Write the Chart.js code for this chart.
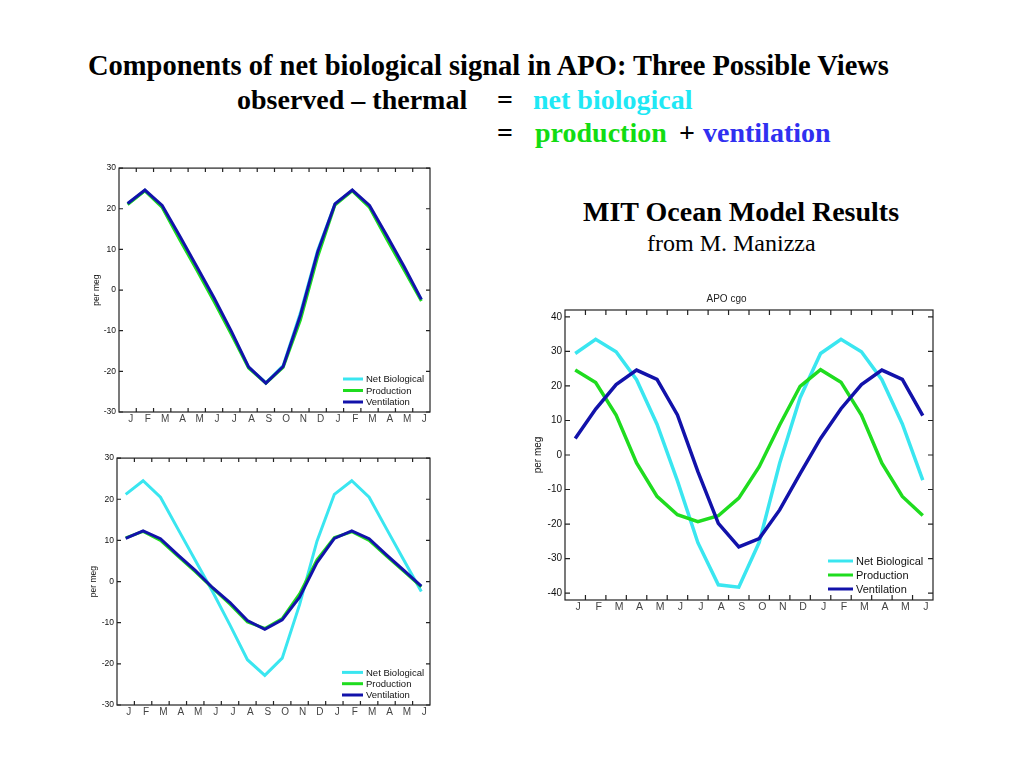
<!DOCTYPE html>
<html>
<head>
<meta charset="utf-8">
<script src="https://cdn.jsdelivr.net/npm/chart.js@4"></script>
<style>
  body { margin: 0; background: #fff; }
  #page { position: relative; width: 1024px; height: 768px; overflow: hidden; }
  .t { position: absolute; white-space: nowrap; font-family: "Liberation Serif", "Times New Roman", serif; color: #000; }
  .b { font-weight: bold; font-size: 28px; line-height: 28px; }
  canvas { position: absolute; }
</style>
</head>
<body>
<div id="page">
  <div class="t b" style="left:88px; top:52px; font-size:28.5px;">Components of net biological signal in APO: Three Possible Views</div>
  <div class="t b" style="left:237px; top:86px;">observed &ndash; thermal</div>
  <div class="t b" style="left:497px; top:86px;">=</div>
  <div class="t b" style="left:533px; top:86px; color:#1fe8f5;">net biological</div>
  <div class="t b" style="left:497px; top:119px;">=</div>
  <div class="t b" style="left:535px; top:119px; color:#12dc12;">production</div>
  <div class="t b" style="left:679px; top:119px;">+</div>
  <div class="t b" style="left:703px; top:119px; color:#3030f0;">ventilation</div>
  <div class="t b" style="left:583px; top:198px;">MIT Ocean Model Results</div>
  <div class="t" style="left:647px; top:231px; font-size:24px; line-height:24px;">from M. Manizza</div>

  <canvas id="chartA" width="360" height="270" style="left:80px; top:160px;"></canvas>
  <canvas id="chartB" width="360" height="275" style="left:80px; top:450px;"></canvas>
  <canvas id="chartC" width="420" height="334" style="left:520px; top:285px;"></canvas>
</div>
<script>
// month labels, Jan of year 1 to Jun of year 2
const months = ["J", "F", "M", "A", "M", "J", "J", "A", "S", "O", "N", "D", "J", "F", "M", "A", "M", "J"];
const seriesNames = ["Net Biological", "Production", "Ventilation"];

// top left panel
const netBio = [21.2, 24.5, 20.5, 12.8, 5.2, -2.5, -10.6, -19.0, -22.8, -18.6, -5.6, 9.8, 21.2, 24.5, 20.5, 12.8, 5.2, -2.4];
const prodTop = [21.0, 24.4, 20.3, 12.5, 4.9, -2.8, -10.9, -19.2, -22.9, -19.0, -7.4, 8.2, 20.9, 24.4, 20.3, 12.5, 4.9, -2.7];
const ventTop = [21.3, 24.6, 20.8, 13.4, 5.8, -1.9, -10.1, -18.9, -22.9, -18.8, -6.2, 9.4, 21.2, 24.6, 20.8, 13.4, 5.8, -2.3];

// bottom left panel (net biological same as above)
const prodBottom = [10.6, 12.2, 10.0, 6.2, 2.4, -1.6, -5.5, -9.8, -11.4, -9.0, -3.0, 5.3, 10.7, 12.1, 10.0, 6.2, 2.5, -1.3];
const ventBottom = [10.5, 12.3, 10.4, 6.5, 2.7, -1.5, -5.1, -9.5, -11.6, -9.3, -3.8, 4.6, 10.5, 12.3, 10.4, 6.5, 2.7, -1.1];

// MIT ocean model, APO cgo
const netMIT = [29.4, 33.5, 29.9, 21.8, 8.9, -7.5, -25.4, -37.6, -38.3, -25.3, -2.4, 16.6, 29.4, 33.5, 29.9, 21.8, 9.0, -7.3];
const prodMIT = [24.6, 21.0, 11.6, -2.3, -12.0, -17.3, -19.3, -17.6, -12.5, -3.4, 8.7, 19.9, 24.7, 21.1, 11.6, -2.4, -12.0, -17.5];
const ventMIT = [4.8, 13.3, 20.4, 24.6, 21.9, 11.6, -4.8, -19.8, -26.6, -24.2, -15.9, -5.4, 4.8, 13.4, 20.4, 24.6, 21.9, 11.4];

const yTicksSmall = [-30, -20, -10, 0, 10, 20, 30];
const yTicksMIT = [-40, -30, -20, -10, 0, 10, 20, 30, 40];

const colCyan = "#3ae6f0";
const colGreen = "#1fdc1f";
const colBlue = "#1212aa";

Chart.defaults.font.family = "'Liberation Sans', Arial, sans-serif";

// box round the plot with small ticks pointing inward, matlab style
const frameTicks = {
    id: "frameTicks",
    afterDatasetsDraw(chart, args, opts) {
        const { ctx, chartArea: a, scales } = chart;
        const x = scales.x, y = scales.y;
        const len = opts.len;
        ctx.save();
        ctx.strokeStyle = "#222";
        ctx.lineWidth = 1.2;
        ctx.strokeRect(a.left, a.top, a.width, a.height);
        ctx.beginPath();
        for (let i = 1; i < x.ticks.length; i++) {
            const px = (x.getPixelForTick(i - 1) + x.getPixelForTick(i)) / 2;
            ctx.moveTo(px, a.top); ctx.lineTo(px, a.top + len);
            ctx.moveTo(px, a.bottom); ctx.lineTo(px, a.bottom - len);
        }
        for (let i = 0; i < y.ticks.length; i++) {
            const py = y.getPixelForTick(i);
            ctx.moveTo(a.left, py); ctx.lineTo(a.left + len, py);
            ctx.moveTo(a.right, py); ctx.lineTo(a.right - len, py);
        }
        ctx.stroke();
        ctx.restore();
    }
};

// legend in the lower right corner of the plot
const cornerLegend = {
    id: "cornerLegend",
    afterDraw(chart, args, opts) {
        const { ctx, chartArea: a } = chart;
        const ds = chart.data.datasets;
        ctx.save();
        ctx.font = opts.size + "px 'Liberation Sans', Arial, sans-serif";
        ctx.textBaseline = "middle";
        ctx.textAlign = "left";
        ds.forEach((d, i) => {
            const yy = a.bottom - opts.bottom - (ds.length - 1 - i) * opts.row;
            const x0 = a.right - opts.right;
            ctx.strokeStyle = d.borderColor;
            ctx.lineWidth = 3;
            ctx.beginPath();
            ctx.moveTo(x0, yy);
            ctx.lineTo(x0 + opts.lineLen, yy);
            ctx.stroke();
            ctx.fillStyle = "#111";
            ctx.fillText(d.label, x0 + opts.lineLen + 3, yy + 0.5);
        });
        ctx.restore();
    }
};

function makeChart(id, series, cfg) {
    const colors = [colCyan, colGreen, colBlue];
    return new Chart(document.getElementById(id), {
        type: "line",
        data: {
            labels: months,
            datasets: series.map((vals, i) => ({
                label: seriesNames[i],
                data: vals,
                borderColor: colors[i],
                borderWidth: cfg.lineWidth,
                pointRadius: 0,
                tension: 0,
                order: 3 - i
            }))
        },
        options: {
            responsive: false,
            animation: false,
            layout: { padding: cfg.padding },
            plugins: {
                legend: { display: false },
                tooltip: { enabled: false },
                title: cfg.title ? {
                    display: true,
                    text: cfg.title,
                    color: "#222",
                    font: { size: 10, weight: "normal" },
                    padding: { top: 8, bottom: 5 }
                } : { display: false },
                frameTicks: { len: cfg.tickLen },
                cornerLegend: cfg.legend
            },
            scales: {
                x: {
                    offset: true,
                    grid: { display: false, drawTicks: false },
                    border: { display: false },
                    ticks: {
                        autoSkip: false,
                        maxRotation: 0,
                        padding: 1,
                        labelOffset: 3,
                        color: "#444",
                        font: { size: cfg.xFont }
                    },
                    afterFit(scale) { scale.height = cfg.xHeight; }
                },
                y: {
                    min: cfg.yMin,
                    max: cfg.yMax,
                    grid: { display: false, drawTicks: false },
                    border: { display: false },
                    afterBuildTicks(scale) { scale.ticks = cfg.yTicks.map(v => ({ value: v })); },
                    ticks: { padding: 3, color: "#111", font: { size: cfg.yFont } },
                    title: {
                        display: true,
                        text: "per meg",
                        color: "#111",
                        font: { size: cfg.yFont },
                        padding: { top: cfg.titlePad, bottom: 0 }
                    },
                    afterFit(scale) { scale.width = cfg.yWidth; }
                }
            }
        },
        plugins: [frameTicks, cornerLegend]
    });
}

makeChart("chartA", [netBio, prodTop, ventTop], {
    padding: { top: 8, right: 10, left: 0, bottom: 0 },
    yMin: -30, yMax: 30, yTicks: yTicksSmall, lineWidth: 3,
    xHeight: 18, yWidth: 39, xFont: 10, yFont: 8.5, titlePad: 12, tickLen: 4,
    legend: { size: 9.5, right: 87, bottom: 10, row: 11.5, lineLen: 20 }
});

makeChart("chartB", [netBio, prodBottom, ventBottom], {
    padding: { top: 8, right: 10, left: 0, bottom: 0 },
    yMin: -30, yMax: 30, yTicks: yTicksSmall, lineWidth: 3,
    xHeight: 20, yWidth: 37, xFont: 10, yFont: 8.5, titlePad: 9, tickLen: 4,
    legend: { size: 9.5, right: 88, bottom: 10, row: 11.3, lineLen: 21 }
});

makeChart("chartC", [netMIT, prodMIT, ventMIT], {
    padding: { top: 0, right: 7, left: 0, bottom: 0 },
    title: "APO cgo",
    yMin: -42, yMax: 42, yTicks: yTicksMIT, lineWidth: 3.5,
    xHeight: 19, yWidth: 45, xFont: 10.5, yFont: 10, titlePad: 12, tickLen: 5,
    legend: { size: 11, right: 105, bottom: 11, row: 14, lineLen: 25 }
});
</script>
</body>
</html>
